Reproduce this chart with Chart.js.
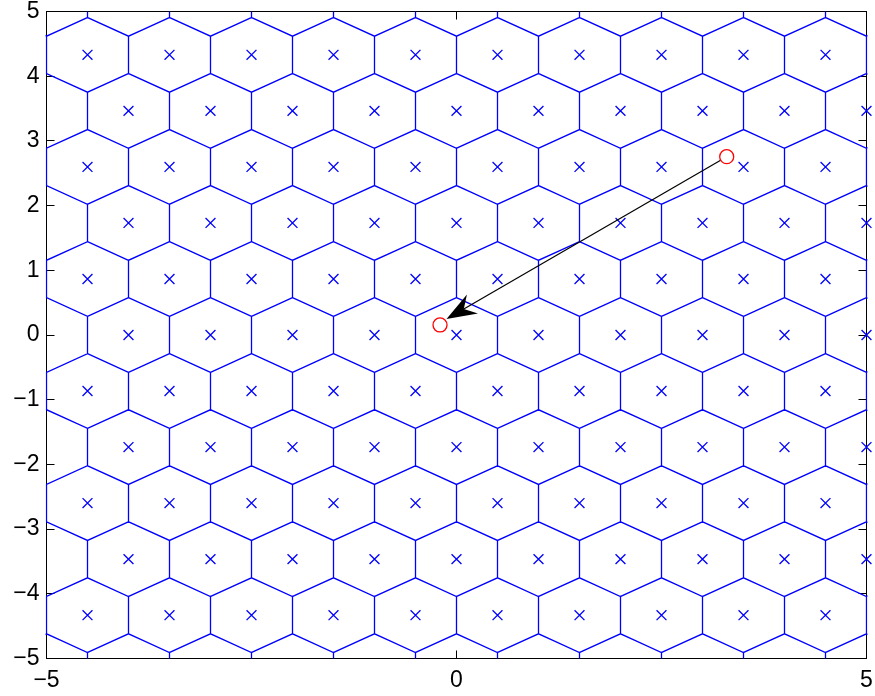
<!DOCTYPE html>
<html>
<head>
<meta charset="utf-8">
<script src="https://cdn.jsdelivr.net/npm/chart.js@4"></script>
<style>
html,body{margin:0;padding:0;background:#ffffff;}
#wrap{width:875px;height:696px;}
</style>
</head>
<body>
<div id="wrap"><canvas id="c" width="875" height="696"></canvas></div>
<script>
// ---- data ----
// hexagonal lattice of sites (the "x" markers): row heights and x positions
const rowY = [4.330, 3.464, 2.598, 1.732, 0.866, 0, -0.866, -1.732, -2.598, -3.464, -4.330];
const rowIsOffset = [true, false, true, false, true, false, true, false, true, false, true];
const offsetRowX = [-4.5, -3.5, -2.5, -1.5, -0.5, 0.5, 1.5, 2.5, 3.5, 4.5];
const alignedRowX = [-4, -3, -2, -1, 0, 1, 2, 3, 4, 5];
// rows just outside the frame whose unbounded Voronoi edges reach the top/bottom border
const outerRowY = [5.196, -5.196];
const outerRowX = [-5, -4, -3, -2, -1, 0, 1, 2, 3, 4, 5];
// red circles
const circleX = [3.295, -0.201];
const circleY = [2.756, 0.155];
// arrow from the first circle towards the second
const arrowFrom = [3.295, 2.756];
const arrowTo = [-0.122, 0.247];
// tick labels
const xTicks = [-5, 0, 5];
const yTicks = [-5, -4, -3, -2, -1, 0, 1, 2, 3, 4, 5];

const FONT = "'Liberation Sans', Arial, Helvetica, sans-serif";

// ---- build sites and Voronoi cells ----
const sites = [];
rowY.forEach((yv, i) => {
  const xs = rowIsOffset[i] ? offsetRowX : alignedRowX;
  xs.forEach(xv => sites.push({x: xv, y: yv}));
});
const spacing = alignedRowX[1] - alignedRowX[0];

function voronoiHex(cx, cy) {
  // Voronoi cell of a site in a hexagonal lattice with nearest-neighbour distance `spacing`
  const R = spacing / Math.sqrt(3);
  const pts = [];
  for (let k = 0; k <= 6; k++) {
    const a = Math.PI / 6 + k * Math.PI / 3;
    pts.push({x: cx + R * Math.cos(a), y: cy + R * Math.sin(a)});
  }
  pts.push({x: null, y: null});
  return pts;
}
const edges = [];
sites.forEach(s => edges.push(...voronoiHex(s.x, s.y)));
outerRowY.forEach(yv => outerRowX.forEach(xv => edges.push(...voronoiHex(xv, yv))));

const fmt = v => (v < 0 ? '\u2212' + Math.abs(v) : String(v));

// ---- plugins: MATLAB style frame with inward ticks, and the arrow ----
const framePlugin = {
  id: 'frame',
  beforeDatasetsDraw(chart) {
    const {ctx, chartArea: a, scales} = chart;
    const L = 8;
    const snap = p => Math.round(p - 0.5) + 0.5;
    ctx.save();
    ctx.strokeStyle = '#000000';
    ctx.lineWidth = 1;
    ctx.strokeRect(a.left, a.top, a.right - a.left, a.bottom - a.top);
    ctx.beginPath();
    yTicks.forEach(v => {
      const p = snap(scales.y.getPixelForValue(v));
      ctx.moveTo(a.left, p); ctx.lineTo(a.left + L, p);
      ctx.moveTo(a.right, p); ctx.lineTo(a.right - L, p);
    });
    xTicks.forEach(v => {
      const p = snap(scales.x.getPixelForValue(v));
      ctx.moveTo(p, a.bottom); ctx.lineTo(p, a.bottom - L);
      ctx.moveTo(p, a.top); ctx.lineTo(p, a.top + L);
    });
    ctx.stroke();
    ctx.restore();
  }
};

const arrowPlugin = {
  id: 'arrow',
  afterDatasetsDraw(chart) {
    const {ctx, scales} = chart;
    const x0 = scales.x.getPixelForValue(arrowFrom[0]), y0 = scales.y.getPixelForValue(arrowFrom[1]);
    const x1 = scales.x.getPixelForValue(arrowTo[0]), y1 = scales.y.getPixelForValue(arrowTo[1]);
    const dx = x1 - x0, dy = y1 - y0, len = Math.hypot(dx, dy);
    const ux = dx / len, uy = dy / len, nx = -uy, ny = ux;
    const r = 7.5, HL = 30, HW = 11, HN = 20;
    const sx = x0 + ux * r, sy = y0 + uy * r;
    const bx = x1 - ux * HN, by = y1 - uy * HN;
    ctx.save();
    ctx.strokeStyle = '#000000';
    ctx.fillStyle = '#000000';
    ctx.lineWidth = 1.2;
    ctx.beginPath(); ctx.moveTo(sx, sy); ctx.lineTo(bx, by); ctx.stroke();
    ctx.beginPath();
    ctx.moveTo(x1, y1);
    ctx.lineTo(x1 - ux * HL + nx * HW, y1 - uy * HL + ny * HW);
    ctx.lineTo(bx, by);
    ctx.lineTo(x1 - ux * HL - nx * HW, y1 - uy * HL - ny * HW);
    ctx.closePath();
    ctx.fill();
    ctx.restore();
  }
};

new Chart(document.getElementById('c').getContext('2d'), {
  type: 'scatter',
  data: {
    datasets: [
      {
        label: 'circles',
        data: circleX.map((xv, i) => ({x: xv, y: circleY[i]})),
        pointStyle: 'circle', pointRadius: 7, pointHoverRadius: 7,
        pointBorderColor: '#ff0000', pointBackgroundColor: 'rgba(0,0,0,0)', pointBorderWidth: 1.3,
        borderColor: '#ff0000', backgroundColor: 'rgba(0,0,0,0)', borderWidth: 1.3,
        order: 0, clip: false
      },
      {
        label: 'sites',
        data: sites,
        pointStyle: 'crossRot', pointRadius: 7, pointHoverRadius: 7,
        pointBorderColor: '#0000ff', pointBackgroundColor: '#0000ff', pointBorderWidth: 1.3,
        borderColor: '#0000ff', backgroundColor: '#0000ff', borderWidth: 1.3,
        order: 1, clip: false
      },
      {
        label: 'voronoi',
        data: edges,
        showLine: true, spanGaps: false, tension: 0,
        pointRadius: 0, pointHoverRadius: 0,
        borderColor: '#0000ff', backgroundColor: '#0000ff', borderWidth: 1.3,
        order: 2, clip: {left: 1, right: 1, top: 0, bottom: 0}
      }
    ]
  },
  options: {
    responsive: false,
    devicePixelRatio: 1,
    animation: false,
    events: [],
    layout: {padding: {left: 0, top: 11.5, right: 8.5, bottom: 0}},
    plugins: {legend: {display: false}, tooltip: {enabled: false}},
    scales: {
      x: {
        type: 'linear', min: -5, max: 5,
        grid: {display: false, drawTicks: false},
        border: {display: false},
        afterBuildTicks: s => { s.ticks = xTicks.map(v => ({value: v})); },
        afterFit: s => { s.height = 37.5; s.paddingLeft = 0; s.paddingRight = 0; },
        ticks: {
          color: '#000000', padding: 8, maxRotation: 0, autoSkip: false,
          font: {family: FONT, size: 23},
          callback: v => fmt(v)
        }
      },
      y: {
        type: 'linear', min: -5, max: 5,
        grid: {display: false, drawTicks: false},
        border: {display: false},
        afterBuildTicks: s => { s.ticks = yTicks.map(v => ({value: v})); },
        afterFit: s => { s.width = 46.5; s.paddingTop = 0; s.paddingBottom = 0; },
        ticks: {
          color: '#000000', padding: 7, autoSkip: false,
          font: {family: FONT, size: 23},
          callback: v => fmt(v)
        }
      }
    }
  },
  plugins: [framePlugin, arrowPlugin]
});
</script>
</body>
</html>
